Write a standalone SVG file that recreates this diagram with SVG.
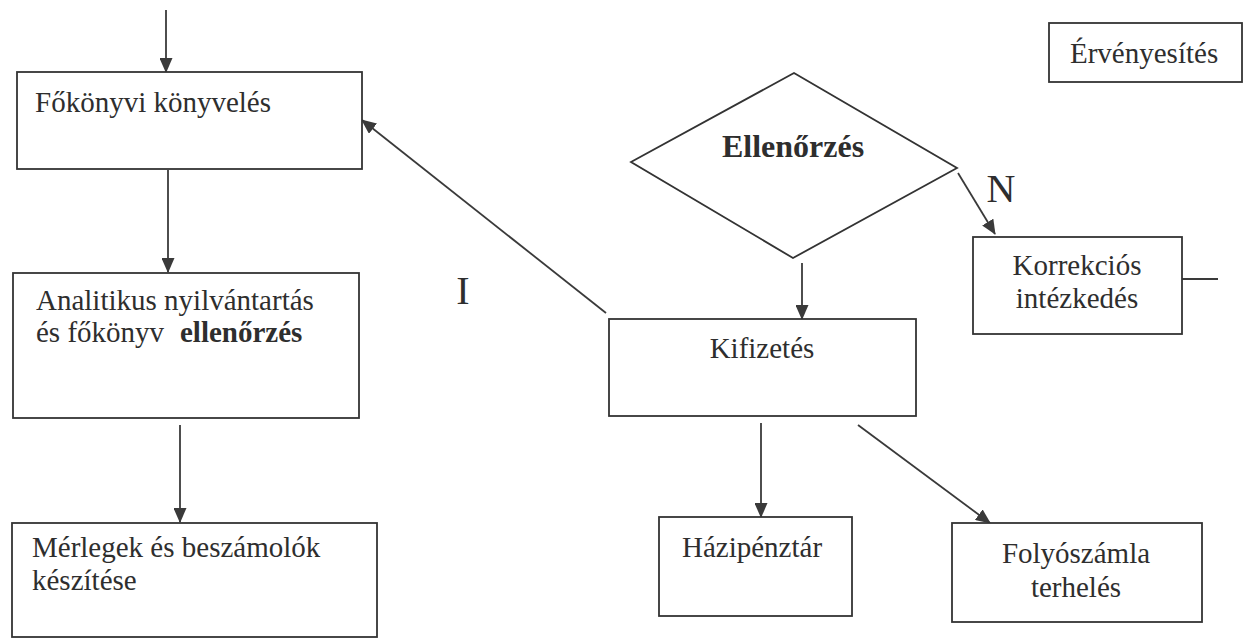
<svg xmlns="http://www.w3.org/2000/svg" width="1248" height="639" viewBox="0 0 1248 639">
<defs>
<style>
.box{fill:#fff;stroke:#333;stroke-width:1.8}
.t{font-family:"Liberation Serif","Times New Roman",serif;font-size:29px;fill:#2e2e2e}
.b{font-weight:bold}
.c{text-anchor:middle}
.big{font-size:40px}
.hd{font-size:32px}
.ln{stroke:#3a3a3a;stroke-width:1.8;fill:none}
.ar{marker-end:url(#ah)}
</style>
<marker id="ah" markerUnits="userSpaceOnUse" markerWidth="15" markerHeight="13" refX="14" refY="6.5" orient="auto">
<path d="M0,0 L15,6.5 L0,13 Z" fill="#3a3a3a"/>
</marker>
</defs>
<rect width="1248" height="639" fill="#fff"/>

<g id="connectors">
<line class="ln ar" x1="166" y1="10" x2="166" y2="72"/>
<line class="ln ar" x1="168" y1="170" x2="168" y2="272"/>
<line class="ln ar" x1="180" y1="425" x2="180" y2="522"/>
<line class="ln ar" x1="606" y1="313" x2="362" y2="120"/>
<line class="ln ar" x1="802" y1="263" x2="802" y2="319"/>
<line class="ln ar" x1="958" y1="173" x2="995" y2="234"/>
<line class="ln" x1="1182" y1="279" x2="1218" y2="279"/>
<line class="ln ar" x1="761" y1="423" x2="761" y2="517"/>
<line class="ln ar" x1="858" y1="425" x2="990" y2="523"/>
</g>

<g id="label-I"><text class="t c big" x="463" y="304">I</text></g>
<g id="label-N"><text class="t c big" x="1001" y="202">N</text></g>

<g id="fokonyvi">
<rect class="box" x="17" y="72" width="345" height="97"/>
<text class="t" x="35" y="112">Főkönyvi könyvelés</text>
</g>

<g id="analitikus">
<rect class="box" x="13" y="273" width="346" height="145"/>
<text class="t" x="36" y="310">Analitikus nyilvántartás</text>
<text class="t" x="36" y="342">és főkönyv</text>
<text class="t b" x="180" y="342">ellenőrzés</text>
</g>

<g id="merlegek">
<rect class="box" x="12" y="523" width="365" height="114"/>
<text class="t" x="32" y="557">Mérlegek és beszámolók</text>
<text class="t" x="32" y="590">készítése</text>
</g>

<g id="ellenorzes">
<polygon class="box" points="794,73 957,168 793,258 631,162"/>
<text class="t b c hd" x="793" y="157">Ellenőrzés</text>
</g>

<g id="ervenyesites">
<rect class="box" x="1049" y="23" width="193" height="59"/>
<text class="t" x="1070" y="63">Érvényesítés</text>
</g>

<g id="korrekcios">
<rect class="box" x="973" y="237" width="209" height="97"/>
<text class="t c" x="1077" y="275">Korrekciós</text>
<text class="t c" x="1077" y="308">intézkedés</text>
</g>

<g id="kifizetes">
<rect class="box" x="609" y="319" width="307" height="97"/>
<text class="t c" x="762" y="358">Kifizetés</text>
</g>

<g id="hazipenztar">
<rect class="box" x="659" y="517" width="193" height="99"/>
<text class="t" x="682" y="557">Házipénztár</text>
</g>

<g id="folyoszamla">
<rect class="box" x="952" y="523" width="250" height="99"/>
<text class="t c" x="1076" y="563">Folyószámla</text>
<text class="t c" x="1076" y="597">terhelés</text>
</g>
</svg>
